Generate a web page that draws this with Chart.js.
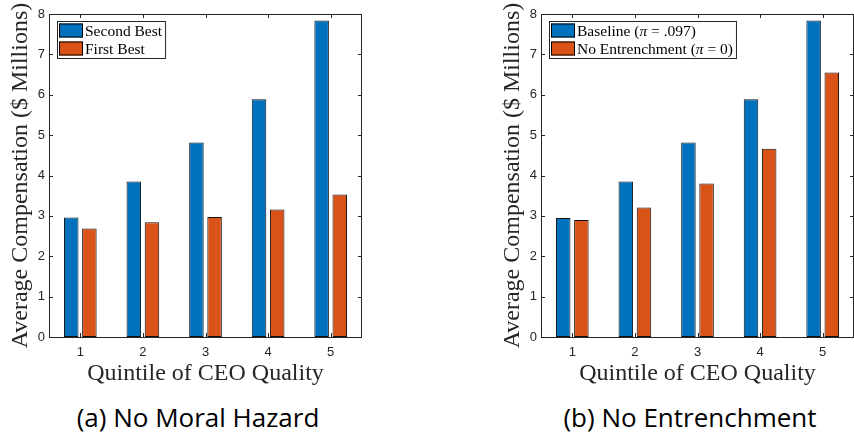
<!DOCTYPE html>
<html lang="en">
<head>
  <meta charset="UTF-8" />
  <title>Average Compensation by CEO Quality</title>
  <script src="https://cdn.jsdelivr.net/npm/chart.js"></script>
  <style>
    body {
      margin: 0;
      background: #ffffff;
      width: 854px;
      height: 437px;
      overflow: hidden;
      position: relative;
    }
    .panel {
      position: absolute;
      top: 0;
    }
    .caption {
      position: absolute;
      top: 399px;
      width: 340px;
      text-align: center;
      font-family: 'Open Sans', sans-serif;
      font-size: 26px;
      line-height: 36px;
      color: #000;
    }
  </style>
</head>
<body>
  <canvas id="leftChart" class="panel" width="364" height="390" style="left:0px"></canvas>
  <canvas id="rightChart" class="panel" width="364" height="390" style="left:492px"></canvas>
  <div class="caption" style="left:28px">(a) No Moral Hazard</div>
  <div class="caption" style="left:520px">(b) No Entrenchment</div>

  <script>
    const quintiles = ['1', '2', '3', '4', '5'];
    const yTicks = [0, 1, 2, 3, 4, 5, 6, 7, 8];

    // panel (a)
    const secondBest = [2.96, 3.85, 4.82, 5.89, 7.84];
    const firstBest = [2.69, 2.84, 2.97, 3.16, 3.53];

    // panel (b)
    const baseline = [2.95, 3.85, 4.82, 5.89, 7.84];
    const noEntrenchment = [2.90, 3.21, 3.80, 4.66, 6.55];

    const BLUE = '#0072BD';
    const ORANGE = '#D95319';
    const AXIS = '#262626';
    const SERIF = "'Liberation Serif', serif";
    const SANS = "'Liberation Sans', Arial, sans-serif";

    // box, inward ticks on all four sides
    const framePlugin = {
      id: 'frame',
      beforeDatasetsDraw(chart) {
        const { ctx, chartArea: a } = chart;
        const xs = chart.scales.x, ys = chart.scales.y;
        ctx.save();
        ctx.strokeStyle = AXIS;
        ctx.lineWidth = 1;
        ctx.beginPath();
        for (const v of yTicks) {
          const y = Math.round(ys.getPixelForValue(v)) + 0.5;
          ctx.moveTo(a.left, y); ctx.lineTo(a.left + 4, y);
          ctx.moveTo(a.right, y); ctx.lineTo(a.right - 4, y);
        }
        quintiles.forEach((q, i) => {
          const x = Math.round(xs.getPixelForValue(i)) + 0.5;
          ctx.moveTo(x, a.bottom); ctx.lineTo(x, a.bottom - 4);
          ctx.moveTo(x, a.top); ctx.lineTo(x, a.top + 4);
        });
        ctx.stroke();
        ctx.restore();
      },
      afterDatasetsDraw(chart) {
        const { ctx, chartArea: a } = chart;
        ctx.save();
        ctx.strokeStyle = AXIS;
        ctx.lineWidth = 1;
        ctx.strokeRect(Math.round(a.left) + 0.5, Math.round(a.top) + 0.5,
          Math.round(a.right - a.left) - 1, Math.round(a.bottom - a.top));
        ctx.restore();
      }
    };

    // pi is set in italic, the rest upright
    function richWidth(ctx, text, size) {
      let w = 0;
      for (const p of text.split(/(π)/)) {
        if (!p) continue;
        ctx.font = (p === 'π' ? 'italic ' : '') + size + 'px ' + SERIF;
        w += ctx.measureText(p).width;
      }
      return w;
    }

    function drawRich(ctx, text, x, y, size) {
      for (const p of text.split(/(π)/)) {
        if (!p) continue;
        ctx.font = (p === 'π' ? 'italic ' : '') + size + 'px ' + SERIF;
        ctx.fillText(p, x, y);
        x += ctx.measureText(p).width;
      }
    }

    const legendPlugin = {
      id: 'boxLegend',
      afterDraw(chart) {
        const { ctx, chartArea: a } = chart;
        const sets = chart.data.datasets;
        const size = 15.5;
        const left = a.left + 8, top = a.top + 7;
        const rowH = 18;
        ctx.save();
        ctx.textBaseline = 'middle';
        const maxW = Math.max(...sets.map(ds => richWidth(ctx, ds.label, size)));
        const boxW = 2 + 24 + 2 + maxW + 3;
        const boxH = sets.length * rowH + 1;
        ctx.fillStyle = '#ffffff';
        ctx.fillRect(left, top, boxW, boxH);
        ctx.strokeStyle = AXIS;
        ctx.lineWidth = 1;
        ctx.strokeRect(left + 0.5, top + 0.5, boxW, boxH);
        sets.forEach((ds, i) => {
          const cy = top + 9.5 + i * rowH;
          ctx.fillStyle = ds.backgroundColor;
          ctx.fillRect(left + 2, cy - 7, 24, 14);
          ctx.strokeStyle = '#000';
          ctx.strokeRect(left + 2.5, cy - 6.5, 23, 13);
          ctx.fillStyle = '#000';
          drawRich(ctx, ds.label, left + 28, cy + 1, size);
        });
        ctx.restore();
      }
    };

    function makeChart(id, labels, a, b) {
      return new Chart(document.getElementById(id), {
        type: 'bar',
        data: {
          labels: quintiles,
          datasets: [
            { label: labels[0], data: a, backgroundColor: BLUE, borderColor: '#111', borderWidth: 1, borderSkipped: false },
            { label: labels[1], data: b, backgroundColor: ORANGE, borderColor: '#111', borderWidth: 1, borderSkipped: false }
          ]
        },
        options: {
          responsive: false,
          animation: false,
          devicePixelRatio: 1,
          categoryPercentage: 0.58,
          barPercentage: 0.8,
          layout: { padding: { top: 14, right: 2, left: 0, bottom: 0 } },
          plugins: { legend: { display: false }, tooltip: { enabled: false } },
          scales: {
            x: {
              offset: true,
              grid: { display: false, drawTicks: false },
              border: { display: false },
              ticks: { color: AXIS, font: { family: SANS, size: 13 }, padding: 8 },
              title: { display: true, text: 'Quintile of CEO Quality', color: AXIS,
                font: { family: SERIF, size: 24 }, padding: { top: 0, bottom: 2 } },
              afterFit(s) { s.height = 53; }
            },
            y: {
              min: 0,
              max: 8,
              afterBuildTicks(s) { s.ticks = yTicks.map(v => ({ value: v })); },
              grid: { display: false, drawTicks: false },
              border: { display: false },
              ticks: { color: AXIS, font: { family: SANS, size: 13 }, padding: 4 },
              title: { display: true, text: 'Average Compensation ($ Millions)', color: AXIS,
                font: { family: SERIF, size: 24 }, padding: { top: 6, bottom: 0 } },
              afterFit(s) { s.width = 49; }
            }
          }
        },
        plugins: [framePlugin, legendPlugin]
      });
    }

    makeChart('leftChart', ['Second Best', 'First Best'], secondBest, firstBest);
    makeChart('rightChart', ['Baseline (π = .097)', 'No Entrenchment (π = 0)'], baseline, noEntrenchment);
  </script>
</body>
</html>
